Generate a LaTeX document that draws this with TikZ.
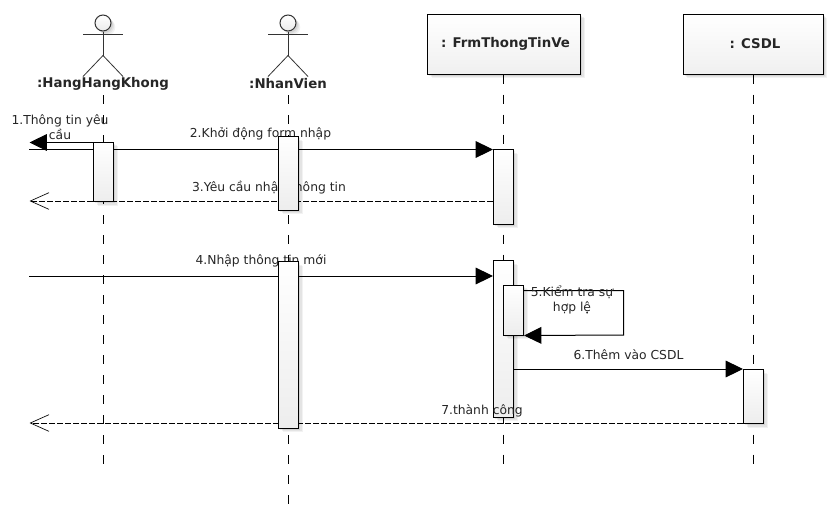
\documentclass[tikz,border=0pt]{standalone}
\usepackage{fontspec}
\setmainfont{DejaVu Sans}
\usetikzlibrary{arrows.meta,shadows}
\pgfdeclarelayer{back}
\pgfsetlayers{back,main}
\tikzset{
  x=0.75pt,y=-0.75pt,
  softshadow/.style={
    general shadow={fill=black,opacity=.05,shadow xshift=3.2pt,shadow yshift=-3.2pt},
    general shadow={fill=black,opacity=.06,shadow xshift=2.3pt,shadow yshift=-2.3pt},
    general shadow={fill=black,opacity=.08,shadow xshift=1.4pt,shadow yshift=-1.4pt}},
  obj/.style={draw=black,line width=.75pt,rectangle,inner sep=0pt,top color=white,bottom color=black!6,softshadow,
    minimum height=45pt},
  objtext/.style={font=\bfseries\fontsize{10}{12}\selectfont,text=black!85,inner sep=0pt},
  activ/.style={draw=black,line width=.75pt,rectangle,inner sep=0pt,top color=white,bottom color=black!7,softshadow,minimum width=15pt},
  actorhead/.style={circle,draw=black!80,line width=.75pt,inner sep=0pt,minimum size=12pt,top color=white,bottom color=black!8,softshadow},
  actorline/.style={draw=black!80,line width=.6pt},
  actorname/.style={font=\bfseries\fontsize{10}{12}\selectfont,text=black!85,inner sep=0pt},
  lifeline/.style={draw=black,line width=.75pt,dash pattern=on 7pt off 8pt},
  msg/.style={draw=black,line width=.75pt,-{Triangle[length=13pt,width=12.5pt]}},
  ret/.style={draw=black,line width=.75pt,dash pattern=on 4.2pt off 1.8pt,-{Straight Barb[length=14pt,width=12.5pt,line width=.5pt]}},
  msgtext/.style={font=\fontsize{9.25}{11.3}\selectfont,text=black!85,align=center,inner sep=0pt},
}
\newcommand{\actnode}[4]{%
  \pgfmathsetmacro{\acth}{(#4-#3)*0.75}%
  \pgfmathsetmacro{\actc}{(#3+#4)/2}%
  \node[activ,minimum height=\acth pt] (#1) at (#2,\actc) {};}
\begin{document}
\begin{tikzpicture}
\useasboundingbox (0,0) rectangle (838,529);
% objects
\node[obj,minimum width=114.75pt] (frm) at (504,44) {};
\node[obj,minimum width=105pt] (csdl) at (753,44) {};
\node[objtext] (frmt) at (505.5,44) {: FrmThongTinVe};
\node[objtext] (csdlt) at (755,44) {: CSDL};
% actors
\node[actorname] (n1) at (103,84) {:HangHangKhong};
\node[actorname] (n2) at (288,84) {:NhanVien};
\coordinate (l1s) at (103,95);
\coordinate (l1e) at (103,465);
\coordinate (l2s) at (288,95);
\coordinate (l2e) at (288,505);
\coordinate (l3e) at (503.5,465);
\coordinate (l4e) at (753.5,465);
\foreach \nm/\cx in {h1/103,h2/288}{
  \node[actorhead] (\nm) at (\cx,23) {};
  \draw[actorline] (\nm.south) -- ++(0,24) coordinate (\nm hip);
  \draw[actorline] (\cx-20,34.5) -- (\cx+20,34.5);
  \draw[actorline] (\cx-20,76.5) -- (\nm hip) -- (\cx+20,76.5);
}
% free ends
\coordinate (f1) at (29.5,142.5);
\coordinate (f2) at (29,149.5);
\coordinate (f3) at (29.5,201);
\coordinate (f4) at (29,276);
\coordinate (f7) at (29.5,423);
% activations
\actnode{a1}{103.5}{142}{201.5}
\actnode{a2}{288.5}{136.5}{210}
\actnode{a3}{503.5}{149.5}{224}
\actnode{a4}{288.5}{261.5}{428}
\actnode{a5}{503.5}{260.5}{417}
\actnode{a6}{513.5}{285}{335}
\actnode{a7}{753.5}{369.5}{423.5}
% behind the activations
\begin{pgfonlayer}{back}
\draw[lifeline] (l1s) -- (l1e);
\draw[lifeline] (l2s) -- (l2e);
\draw[lifeline] (frm.south -| l3e) -- (l3e);
\draw[lifeline] (csdl.south -| l4e) -- (l4e);
\draw[msg] (f2) -- (f2 -| a3.west);
\draw[ret] (a3.west |- f3) -- (f3);
\draw[msg] (f4) -- (f4 -| a5.west);
\draw[ret] (a7.west |- f7) -- (f7);
\node[msgtext] (t2) at (260.5,133.7) {2.Khởi động form nhập};
\node[msgtext] (t3) at (269,187.7) {3.Yêu cầu nhập thông tin};
\node[msgtext] (t4) at (261,261) {4.Nhập thông tin mới};
\end{pgfonlayer}
% in front of the activations
\draw[msg] (a1.north west |- f1) -- (f1);
\coordinate (c5a) at (623.5,290.5);
\coordinate (c5b) at (623.5,335);
\draw[msg] (a6.east |- c5a) -- (c5a) -- (c5b) -- (a6.south east);
\draw[msg] (a5.east |- a7.north) -- (a7.north west);
\node[msgtext] (t1) at (60,127) {1.Thông tin yêu\\cầu};
\node[msgtext] (t5) at (572,300) {5.Kiểm tra sự\\hợp lệ};
\node[msgtext] (t6) at (628.5,354.5) {6.Thêm vào CSDL};
\node[msgtext] (t7) at (482,410.5) {7.thành công};
\end{tikzpicture}
\end{document}
